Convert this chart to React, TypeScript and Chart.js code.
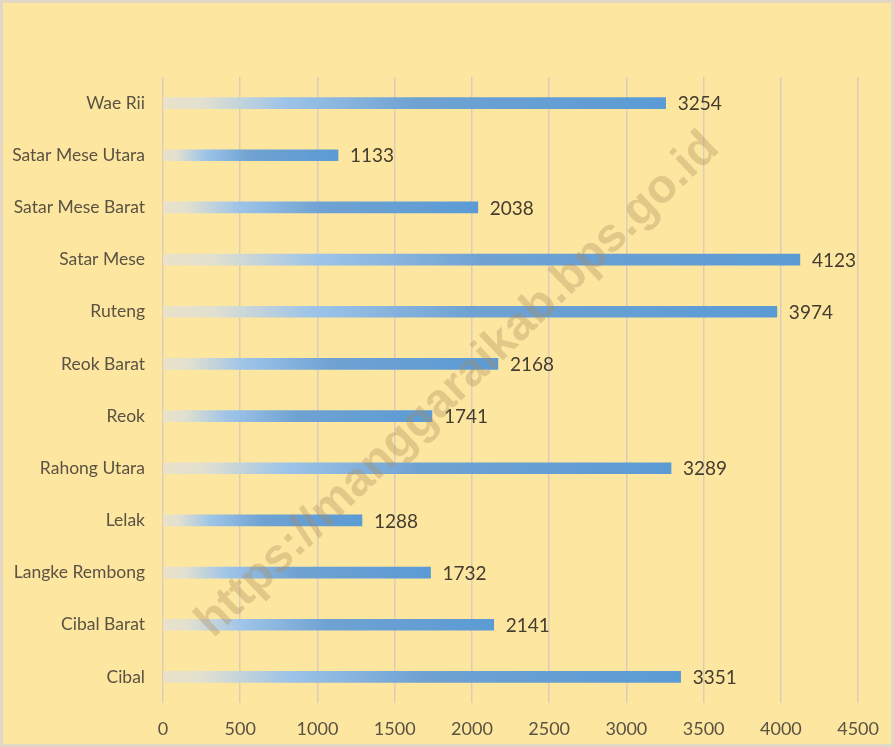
import React, { useEffect, useRef } from "react";
import { Chart, registerables } from "chart.js";

Chart.register(...registerables);

const categories = [
  "Wae Rii",
  "Satar Mese Utara",
  "Satar Mese Barat",
  "Satar Mese",
  "Ruteng",
  "Reok Barat",
  "Reok",
  "Rahong Utara",
  "Lelak",
  "Langke Rembong",
  "Cibal Barat",
  "Cibal",
];
const values = [3254, 1133, 2038, 4123, 3974, 2168, 1741, 3289, 1288, 1732, 2141, 3351];
const xTicks = [0, 500, 1000, 1500, 2000, 2500, 3000, 3500, 4000, 4500];
const watermark = "https://manggaraikab.bps.go.id";

const FONT = "Lato, 'Open Sans', 'Liberation Sans', sans-serif";

export default function App() {
  const ref = useRef<HTMLCanvasElement | null>(null);

  useEffect(() => {
    document.body.style.margin = "0";
    const canvas = ref.current!;

    const bgPlugin = {
      id: "bg",
      beforeDraw(chart: any) {
        const c = chart.ctx;
        c.save();
        c.fillStyle = "#FDE6A0";
        c.fillRect(0, 0, chart.width, chart.height);
        c.strokeStyle = "#E2D6C4";
        c.lineWidth = 3;
        c.strokeRect(1.5, 1.5, chart.width - 3, chart.height - 3);
        c.restore();
      },
    };

    const labelPlugin = {
      id: "valueLabels",
      afterDatasetsDraw(chart: any) {
        const c = chart.ctx;
        const meta = chart.getDatasetMeta(0);
        c.save();
        c.font = `19px ${FONT}`;
        c.fillStyle = "#433C30";
        c.textAlign = "left";
        c.textBaseline = "middle";
        meta.data.forEach((bar: any, i: number) => {
          c.fillText(String(values[i]), bar.x + 12, bar.y + 1);
        });
        c.restore();
      },
    };

    const watermarkPlugin = {
      id: "watermark",
      afterDraw(chart: any) {
        const c = chart.ctx;
        c.save();
        c.translate(458, 385);
        c.rotate(-Math.PI / 4.1);
        let size = 40;
        c.font = `bold ${size}px 'Liberation Sans', Arial, sans-serif`;
        const w = c.measureText(watermark).width;
        size = (size * 705) / w;
        c.font = `bold ${size}px 'Liberation Sans', Arial, sans-serif`;
        c.fillStyle = "rgba(170,140,90,0.34)";
        c.textAlign = "center";
        c.textBaseline = "middle";
        c.fillText(watermark, 0, 0);
        c.restore();
      },
    };

    const chart = new Chart(canvas, {
      type: "bar",
      data: {
        labels: categories,
        datasets: [
          {
            data: values,
            barThickness: 11,
            borderWidth: 0,
            backgroundColor: (ctx: any) => {
              const ch = ctx.chart;
              if (!ch.chartArea || !ch.scales.x) return "#5B9BD5";
              const sx = ch.scales.x;
              const x0 = sx.getPixelForValue(0);
              const x1 = sx.getPixelForValue(ctx.raw as number);
              const g = ch.ctx.createLinearGradient(x0, 0, x1, 0);
              g.addColorStop(0, "rgba(234,226,200,1)");
              g.addColorStop(0.08, "rgba(225,224,208,1)");
              g.addColorStop(0.24, "#9EC4E8");
              g.addColorStop(0.5, "#6FA2D2");
              g.addColorStop(1, "#5B9BD5");
              return g;
            },
          },
        ],
      },
      options: {
        indexAxis: "y",
        responsive: false,
        animation: false,
        layout: { padding: { top: 77, right: 30, left: 0, bottom: 0 } },
        plugins: {
          legend: { display: false },
          tooltip: { enabled: false },
          title: { display: false },
        },
        scales: {
          x: {
            min: 0,
            max: 4500,
            afterBuildTicks: (s: any) => {
              s.ticks = xTicks.map((v) => ({ value: v }));
            },
            afterFit: (s: any) => {
              s.height = 44;
            },
            grid: { color: "#DCCDB8", lineWidth: 1.5, drawTicks: false },
            border: { display: false },
            ticks: {
              padding: 15,
              color: "#5A5242",
              font: { family: FONT, size: 18 },
              maxRotation: 0,
              callback: (v: any) => String(v),
            },
          },
          y: {
            afterFit: (s: any) => {
              s.width = 163;
            },
            grid: { display: false, drawTicks: false },
            border: { display: false },
            ticks: {
              padding: 18,
              color: "#5A5242",
              font: { family: FONT, size: 17.5 },
            },
          },
        },
      },
      plugins: [bgPlugin, labelPlugin, watermarkPlugin],
    } as any);

    return () => chart.destroy();
  }, []);

  return (
    <div style={{ position: "absolute", left: 0, top: 0, width: 894, height: 747 }}>
      <canvas ref={ref} width={894} height={747} style={{ display: "block", width: 894, height: 747 }} />
    </div>
  );
}
